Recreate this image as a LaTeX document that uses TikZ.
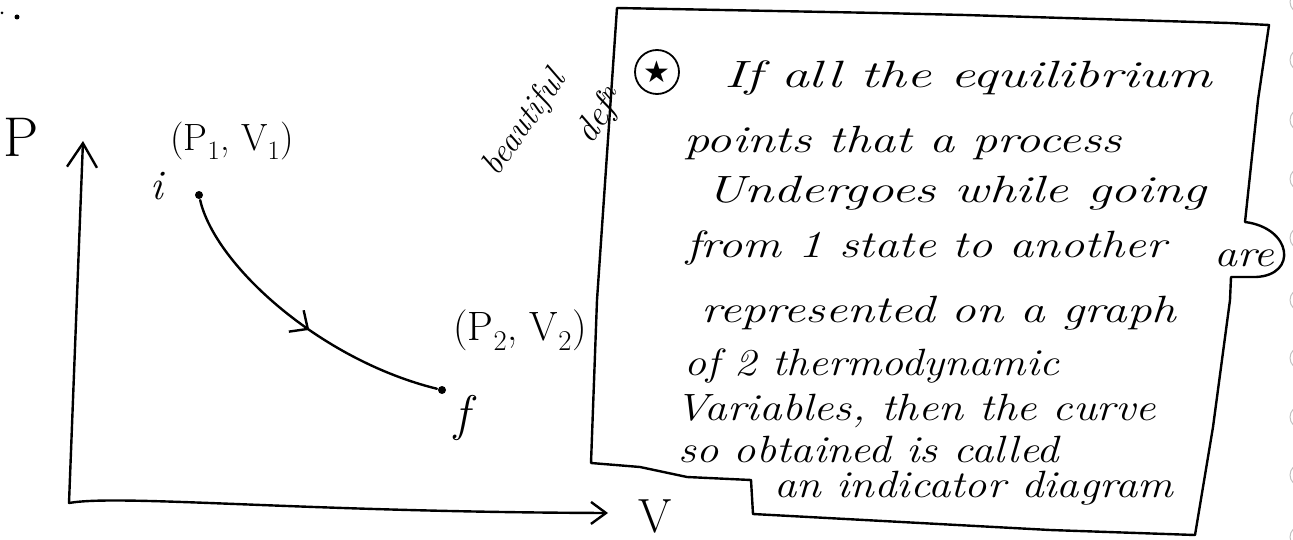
\documentclass[tikz,border=0pt]{standalone}
\usepackage{fontspec}
\newfontfamily\symfont{DejaVu Sans}
\usetikzlibrary{arrows.meta, decorations.markings}
\tikzset{
  every picture/.style={line width=2.4pt, line cap=round, line join=round},
  hand/.style={font=\fontsize{38}{42}\selectfont\itshape, anchor=base west, inner sep=0pt},
  note/.style={font=\fontsize{34}{36}\selectfont\itshape, inner sep=0pt, rotate=55},
  lbl/.style={font=\fontsize{38}{40}\selectfont, inner sep=0pt},
  dot/.style={circle, fill, inner sep=0pt, minimum size=8pt},
  axisline/.style args={#1/#2}{-{Straight Barb[length=#1, width=#2]}},
  process/.style={postaction=decorate, decoration={markings,
      mark=at position 0.55 with {\arrow{Straight Barb[length=14pt, width=26pt]}}}},
  hole/.style={draw=gray!50, line width=1pt},
}

\begin{document}
\begin{tikzpicture}[x=1pt, y=-1pt]
  \useasboundingbox (0,0) rectangle (1293,540);
  % P-V axes
  \coordinate (O) at (69,503);
  \coordinate (Ptip) at (83,141);
  \coordinate (Vtip) at (608,513);
  \draw[axisline=24pt/30pt] (O) -- (Ptip);
  \draw[axisline=15pt/22pt] (O) .. controls (120,494) and (300,512) .. (Vtip);
  \node[lbl, font=\fontsize{56}{58}\selectfont] (P) at (21,137) {P};
  \node[lbl, font=\fontsize{48}{50}\selectfont] (V) at (655,516) {V};

  % the process i -> f
  \node[dot] (i) at (199,195) {};
  \node[dot] (f) at (442,390) {};
  \node[lbl, font=\fontsize{42}{44}\selectfont\itshape] (ilab) at (157,186) {i};
  \node[lbl, font=\fontsize{50}{52}\selectfont\itshape] (flab) at (462,418) {f};
  \node[lbl] (iv) at (232,141) {(P\textsubscript{1}, V\textsubscript{1})};
  \node[lbl, font=\fontsize{41}{43}\selectfont] (fv) at (520,330) {(P\textsubscript{2}, V\textsubscript{2})};
  \draw[process] (i) .. controls (215,265) and (320,360) .. (f);

  % definition box
  \draw (617,8) -- (880,13) -- (965,15) -- (1229,23) -- (1269,25) -- (1258,100) -- (1245,222)
    .. controls (1292,228) and (1298,275) .. (1256,277) -- (1231,277) -- (1230,300)
    -- (1213,427) -- (1195,535) -- (1050,530) -- (753,514) -- (751,480) -- (687,477)
    -- (640,467) -- (591,463) -- (597,300) -- cycle;
  \node[draw, circle, inner sep=0pt, minimum size=44pt, line width=1.8pt] (star) at (657,72)
    {\symfont\fontsize{30}{30}\selectfont ★};
  \foreach \n/\x/\y/\w/\txt in {
      1/723/88/488/{If all the equilibrium},
      2/683/153/437/{points that a process},
      3/705/203/500/{Undergoes while going},
      4/685/258/480/{from 1 state to another},
      5/700/322/475/{represented on a graph},
      6/683/375/375/{of 2 thermodynamic},
      7/674/420/481/{Variables, then the curve},
      8/677/462/381/{so obtained is called},
      9/773/497/399/{an indicator diagram}}
    \node[hand] (line\n) at (\x,\y) {\resizebox{\w pt}{\height}{\txt}};
  \node[hand] (are) at (1213,266) {\resizebox{60pt}{\height}{are}};

  % margin note
  \node[note] (beau) at (525,124) {beautiful};
  \node[note, font=\fontsize{36}{38}\selectfont\itshape] (defn) at (601,116) {def\textsuperscript{n}};

  % stray marks of the page
  \fill (2,13) circle (1.5);
  \fill (17,17) circle (2.5);
  \foreach \y in {2,60,120,179,238,300,358,417,475,537}
    \draw[hole] (1301,\y) circle (11);
\end{tikzpicture}
\end{document}
